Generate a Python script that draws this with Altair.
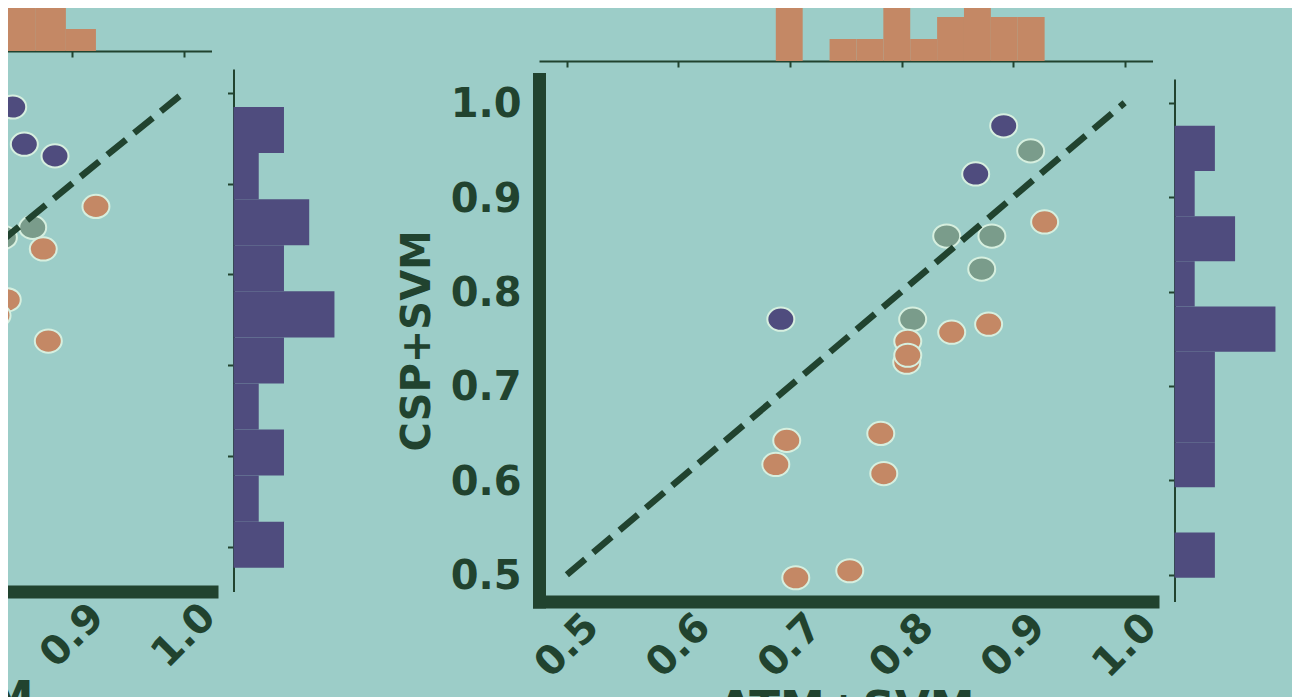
import altair as alt
import numpy as np
import pandas as pd

# ---------------- data ----------------
GROUPS = ["group 1", "group 2", "group 3"]

# right panel: ATM+SVM (x) vs CSP+SVM (y)
right_x = [0.6918, 0.8665, 0.8916, 0.9158, 0.8405, 0.8810, 0.8719, 0.8100, 0.9283, 0.8450,
           0.8781, 0.8056, 0.8047, 0.8056, 0.6971, 0.6873, 0.7814, 0.7841, 0.7052, 0.7536]
right_y = [0.7707, 0.9246, 0.9756, 0.9490, 0.8588, 0.8588, 0.8238, 0.7707, 0.8737, 0.7569,
           0.7654, 0.7473, 0.7251, 0.7325, 0.6423, 0.6168, 0.6497, 0.6072, 0.4968, 0.5042]
right_g = ["group 1", "group 1", "group 1", "group 2", "group 2", "group 2", "group 2", "group 2",
           "group 3", "group 3", "group 3", "group 3", "group 3", "group 3", "group 3", "group 3",
           "group 3", "group 3", "group 3", "group 3"]

# left panel (mostly outside the picture)
left_x = [0.8468, 0.8572, 0.8847, 0.9214, 0.8647, 0.8384, 0.8742, 0.8419, 0.8327, 0.8787,
          0.74, 0.70, 0.79, 0.82, 0.652, 0.72, 0.77, 0.69, 0.75, 0.68]
left_y = [0.9843, 0.9434, 0.9305, 0.8749, 0.8518, 0.8408, 0.8281, 0.7721, 0.7549, 0.7267,
          0.80, 0.76, 0.745, 0.70, 0.65, 0.61, 0.59, 0.55, 0.4772, 0.51]
left_g = ["group 1", "group 1", "group 1", "group 3", "group 2", "group 2", "group 3", "group 3",
          "group 3", "group 3", "group 3", "group 3", "group 3", "group 3", "group 3", "group 3",
          "group 3", "group 3", "group 3", "group 3"]

diag_vals = [0.5, 1.0]
tick_vals = [0.5, 0.6, 0.7, 0.8, 0.9, 1.0]
x_title = "ATM+SVM"
y_title = "CSP+SVM"

# ---------------- style ----------------
BG = "#9ccdc8"
DARK = "#21432f"
PURPLE = "#4f4c7e"
GREEN = "#7a9c8b"
ORANGE = "#c48865"
OUTLINE = "#d6efdf"
FONT = "DejaVu Sans"
COLORS = [PURPLE, GREEN, ORANGE]
ELLIPSE = ("M 1 0 C 1 0.475 0.5523 0.86 0 0.86 C -0.5523 0.86 -1 0.475 -1 0 "
           "C -1 -0.475 -0.5523 -0.86 0 -0.86 C 0.5523 -0.86 1 -0.475 1 0 Z")

SW, SH = 613.5, 522.5   # scatter view
RW = 106                # right histogram width


def hist(vals):
    counts, edges = np.histogram(np.array(vals), bins=10)
    return pd.DataFrame({"start": edges[:-1], "end": edges[1:], "count": counts})


def margin(lo, hi):
    m = 0.05 * (hi - lo)
    return [lo - m, hi + m]


def panel(xs, ys, gs, top_h, top_unit):
    x_dom = margin(min(min(xs), diag_vals[0]), max(max(xs), diag_vals[1]))
    y_dom = margin(min(min(ys), diag_vals[0]), max(max(ys), diag_vals[1]))
    xscale = alt.Scale(domain=x_dom, nice=False, zero=False)
    yscale = alt.Scale(domain=y_dom, nice=False, zero=False)

    pts = pd.DataFrame({"x": xs, "y": ys, "g": gs, "k": list(range(len(xs)))})
    diag = pd.DataFrame({"x": diag_vals, "y": diag_vals})

    xaxis = alt.Axis(values=tick_vals, format=".1f", labelAngle=-45, labelAlign="center",
                     labelBaseline="middle", labelPadding=44, ticks=False, tickSize=0,
                     domainWidth=13, domainColor=DARK, domainCap="square", grid=False,
                     labelFontSize=40, labelFontWeight="bold", labelColor=DARK,
                     labelOverlap=False, labelFlush=False,
                     title=x_title, titleFontSize=45, titleFontWeight="bold",
                     titleColor=DARK, titlePadding=2)
    yaxis = alt.Axis(values=tick_vals, format=".1f", labelPadding=18, labelOffset=2,
                     ticks=False, tickSize=0,
                     domainWidth=13, domainColor=DARK, domainCap="square", grid=False,
                     labelFontSize=40, labelFontWeight="bold", labelColor=DARK,
                     labelBaseline="middle", labelOverlap=False, labelFlush=False,
                     title=y_title, titleFontSize=40, titleFontWeight="bold",
                     titleColor=DARK, titlePadding=13)

    points = alt.Chart(pts).mark_point(
        shape=ELLIPSE, filled=True, size=729, opacity=1, stroke=OUTLINE, strokeWidth=2
    ).encode(
        x=alt.X("x:Q", scale=xscale, axis=xaxis),
        y=alt.Y("y:Q", scale=yscale, axis=yaxis),
        color=alt.Color("g:N", scale=alt.Scale(domain=GROUPS, range=COLORS), legend=None),
        order=alt.Order("k:Q"),
    )
    line = alt.Chart(diag).mark_line(
        color=DARK, strokeWidth=6.5, strokeDash=[24, 10.5], strokeCap="butt"
    ).encode(x=alt.X("x:Q", scale=xscale), y=alt.Y("y:Q", scale=yscale))
    scatter = alt.layer(points, line).properties(width=SW, height=SH)

    hx = hist(xs)
    hy = hist(ys)
    top_axis = alt.Axis(values=tick_vals, labels=False, ticks=True, tickSize=6, tickWidth=2,
                        tickColor=DARK, domainColor=DARK, domainWidth=2, grid=False, title=None)
    top = alt.Chart(hx).mark_rect(color=ORANGE, clip=True).encode(
        x=alt.X("start:Q", scale=xscale, axis=top_axis),
        x2="end:Q",
        y=alt.Y("count:Q", scale=alt.Scale(domain=[0, top_h / top_unit], nice=False, zero=True), axis=None),
        y2=alt.datum(0),
    ).properties(width=SW, height=top_h)

    r_axis = alt.Axis(values=tick_vals, labels=False, ticks=True, tickSize=6, tickWidth=2,
                      tickColor=DARK, domainColor=DARK, domainWidth=2, grid=False, title=None)
    right = alt.Chart(hy).mark_rect(color=PURPLE).encode(
        y=alt.Y("start:Q", scale=yscale, axis=r_axis),
        y2="end:Q",
        x=alt.X("count:Q", scale=alt.Scale(domain=[0, int(hy["count"].max()) * 1.05], nice=False), axis=None),
        x2=alt.datum(0),
    ).properties(width=RW, height=SH)

    inner = alt.hconcat(scatter, right, spacing=21.5, bounds="flush")
    return alt.vconcat(top, inner, spacing=9)


left_panel = panel(left_x, left_y, left_g, 80, 22.0)
right_panel = panel(right_x, right_y, right_g, 90, 22.0)

chart = alt.hconcat(left_panel, right_panel, spacing=56).properties(
    padding={"left": -553, "top": -38, "right": 11, "bottom": -35},
    background=BG,
).configure_view(stroke="transparent").configure_axis(labelFont=FONT, titleFont=FONT)

chart.save("out.html", embed_options={"renderer": "svg", "actions": False})
